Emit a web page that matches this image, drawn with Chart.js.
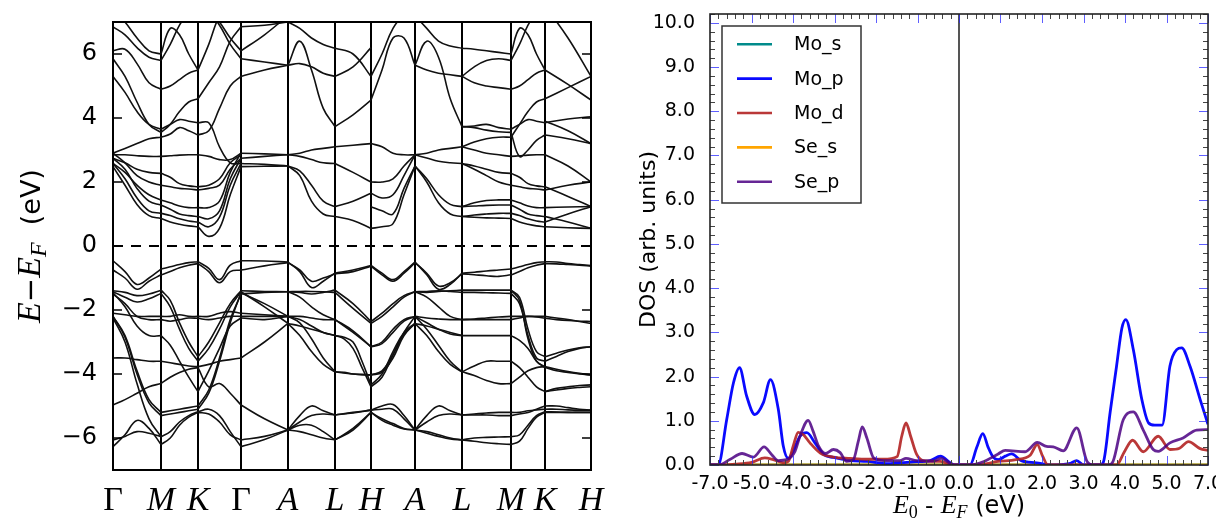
<!DOCTYPE html>
<html><head><meta charset="utf-8">
<script src="https://cdn.jsdelivr.net/npm/chart.js@4.4.0/dist/chart.umd.min.js"></script>
<style>html,body{margin:0;padding:0;background:#fff;overflow:hidden}
#c1{position:absolute;left:0;top:0}#c2{position:absolute;left:620px;top:0}</style>
</head><body>
<canvas id="c1" width="620" height="521"></canvas>
<canvas id="c2" width="596" height="521"></canvas>
<script>
// ---------- Band structure data ----------
const kHS = [0,48,85,128,175,222,258,302,349,398,432,478];
const kLabels = ['Γ','M','K','Γ','A','L','H','A','L','M','K','H'];
const eTicks = [-6,-4,-2,0,2,4,6];
const eTickLabels = ['−6','−4','−2','0','2','4','6'];

const bandsGM = [
[-0.46,-0.8,-1.2,-1.0,-0.72],[-0.75,-1.0,-1.35,-1.1,-0.9],[-1.4,-1.45,-1.55,-1.5,-1.38],
[-1.43,-1.6,-1.75,-1.65,-1.48],[-2.1,-2.15,-2.2,-2.2,-2.2],[-1.5,-1.8,-2.2,-2.3,-2.3],
[-1.46,-1.9,-2.5,-2.8,-2.8],[-2.2,-2.8,-3.9,-4.8,-5.2],[-2.2,-2.85,-4.0,-4.9,-5.3],
[-2.25,-3.0,-4.3,-5.4,-5.96],[-3.5,-3.5,-3.55,-3.6,-3.6],[-4.97,-4.8,-4.6,-4.4,-4.3],
[-6.06,-5.95,-5.8,-5.85,-5.96],[-6.27,-5.9,-5.45,-5.7,-6.2],
[2.48,1.9,1.3,0.95,0.86],[2.58,2.1,1.5,1.1,1.02],[2.74,2.4,1.8,1.4,1.28],[2.58,2.3,1.9,1.6,1.44],
[2.9,2.6,2.2,2.0,1.9],[2.74,2.6,2.4,2.3,2.27],[2.85,2.85,2.82,2.8,2.8],[2.9,3.05,3.2,3.35,3.4],
[5.3,4.8,4.2,3.8,3.65],[5.85,5.3,4.5,3.8,3.55],[6.1,6.15,5.7,5.1,4.9],[6.85,6.6,6.2,5.9,5.8],
[7.4,7.0,6.5,6.1,6.0]];
const bandsMK = [
[-0.72,-0.65,-0.58,-0.52,-0.49],[-0.9,-0.8,-0.68,-0.6,-0.55],[-1.38,-1.7,-2.4,-3.0,-3.46],
[-1.48,-1.9,-2.6,-3.2,-3.6],[-2.2,-2.2,-2.15,-2.2,-2.2],[-2.3,-2.35,-2.3,-2.25,-2.26],
[-2.8,-3.1,-3.6,-4.1,-4.55],[-3.6,-3.65,-3.7,-3.75,-3.77],[-4.3,-4.1,-3.95,-3.85,-3.8],
[-5.2,-5.15,-5.1,-5.05,-5.0],[-5.3,-5.25,-5.2,-5.15,-5.1],[-5.96,-5.8,-5.5,-5.3,-5.18],
[-6.2,-6.0,-5.6,-5.35,-5.2],
[0.86,0.75,0.68,0.63,0.6],[1.02,0.95,0.85,0.78,0.75],[1.28,1.15,1.0,0.95,0.92],[1.44,1.35,1.25,1.2,1.2],
[1.9,1.85,1.8,1.78,1.75],[2.27,2.15,1.95,1.88,1.85],[2.8,2.82,2.84,2.85,2.85],[3.4,3.5,3.7,3.6,3.47],
[3.65,3.8,3.95,3.9,3.85],[3.55,3.8,4.2,4.5,4.6],[4.9,5.0,5.2,5.4,5.5],[5.8,6.3,6.9,7.3,7.5],
[6.0,6.8,6.6,6.0,5.5]];
const bandsKG = [
[-0.49,-0.7,-1.05,-0.6,-0.46],[-0.55,-0.8,-1.15,-0.8,-0.75],[-3.46,-3.0,-2.4,-1.8,-1.4],
[-3.6,-3.2,-2.6,-1.9,-1.43],[-2.2,-2.2,-2.1,-2.05,-2.1],[-2.26,-2.3,-2.25,-2.2,-2.2],
[-4.55,-3.9,-3.2,-2.5,-2.25],[-3.77,-3.7,-3.6,-3.55,-3.5],[-3.8,-4.4,-4.3,-4.6,-4.97],
[-5.0,-4.5,-3.5,-2.3,-1.5],[-5.1,-4.6,-3.6,-2.4,-1.46],[-5.18,-5.1,-5.3,-5.8,-6.27],
[-5.2,-5.25,-5.5,-5.9,-6.06],
[0.6,0.3,0.55,1.6,2.48],[0.75,0.6,0.9,1.9,2.58],[0.92,0.85,1.1,2.1,2.74],[1.2,1.2,1.4,2.3,2.9],
[1.75,1.8,1.9,2.4,2.74],[1.85,1.9,2.1,2.6,2.85],[2.85,2.8,2.7,2.7,2.9],[3.85,3.85,3.1,2.6,2.58],
[4.6,5.1,5.6,6.4,6.85],[5.5,6.3,7.2,7.6,7.6],[7.5,7.3,6.9,6.3,5.85],[3.47,3.6,4.3,5.0,5.3],
[7.6,7.4,7.0,6.5,6.1]];
const bandsGA = [
[-0.46,-0.47,-0.5],[-0.75,-0.62,-0.52],[-1.4,-1.42,-1.43],[-1.43,-1.9,-2.42],[-2.1,-2.15,-2.2],
[-2.2,-2.2,-2.2],[-2.25,-2.3,-2.2],[-3.5,-3.0,-2.42],[-4.97,-5.4,-5.75],[-6.27,-6.05,-5.75],
[-6.06,-5.95,-5.75],[-1.5,-1.45,-1.43],[-1.46,-1.8,-2.2],
[2.48,2.49,2.5],[2.58,2.55,2.5],[2.74,2.8,2.85],[2.9,2.88,2.85],[5.85,5.75,5.65],[5.3,5.5,5.65],
[6.85,6.9,7.0],[6.1,6.6,7.2]];
const bandsAL1 = [
[-0.5,-0.8,-1.3,-1.1,-0.85],[-0.52,-0.75,-1.1,-1.0,-0.87],[-1.43,-1.45,-1.5,-1.45,-1.38],
[-1.43,-1.6,-1.9,-2.15,-2.3],[-2.2,-2.3,-2.5,-2.7,-2.8],[-2.2,-2.4,-2.9,-3.5,-3.93],
[-2.42,-2.8,-3.3,-3.7,-3.93],[-2.42,-2.5,-2.6,-2.7,-2.8],[-2.2,-2.2,-2.25,-2.3,-2.3],
[-5.75,-5.3,-5.0,-5.15,-5.28],[-5.75,-5.6,-5.6,-5.8,-6.06],[-5.75,-5.8,-5.9,-6.0,-6.06],
[-5.75,-5.5,-5.3,-5.25,-5.28],[-1.43,-1.42,-1.42,-1.43,-1.45],
[2.5,2.2,1.4,1.0,0.92],[2.5,2.35,1.9,1.4,1.23],[2.85,2.8,2.7,2.6,2.58],[2.85,2.9,3.0,3.05,3.1],
[5.65,6.4,5.5,4.3,3.73],[5.65,5.7,5.6,5.4,5.3],[7.0,6.8,6.5,6.3,6.18]];
const bandsLH = [
[-0.85,-0.75,-0.61],[-0.87,-0.8,-0.63],[-1.38,-1.8,-2.36],[-1.45,-1.95,-2.42],[-2.3,-2.7,-3.15],
[-2.3,-2.65,-3.15],[-2.8,-2.85,-3.0,-3.6,-4.34],[-2.8,-2.9,-3.2,-3.8,-4.4],
[-3.93,-3.95,-4.0,-4.02,-4.03],[-3.93,-4.0,-4.03],[-5.28,-5.2,-5.13],[-5.28,-5.22,-5.13],
[-6.06,-5.7,-5.2],[-6.06,-5.75,-5.2],
[0.92,0.8,0.55],[1.23,1.4,1.65],[2.58,2.3,2.0],[3.1,3.15,3.2],[3.73,4.1,4.56],[6.18,6.0,5.3],
[5.3,5.6,6.2]];
const bandsHA = [
[-0.61,-0.85,-1.05,-0.8,-0.5],[-0.63,-0.9,-1.1,-0.85,-0.52],[-2.36,-2.1,-1.8,-1.55,-1.43],
[-2.42,-2.2,-1.9,-1.6,-1.43],[-3.15,-3.0,-2.6,-2.3,-2.2],[-3.15,-3.05,-2.7,-2.35,-2.2],
[-4.34,-4.0,-3.3,-2.7,-2.42],[-4.4,-4.1,-3.4,-2.75,-2.42],[-4.03,-3.9,-3.4,-2.7,-2.2],
[-4.03,-3.95,-3.5,-2.8,-2.42],[-5.13,-5.0,-4.95,-5.3,-5.75],[-5.13,-5.1,-5.1,-5.4,-5.75],
[-5.2,-5.4,-5.55,-5.7,-5.75],[-5.2,-5.45,-5.6,-5.72,-5.75],
[0.55,0.6,0.7,1.6,2.5],[1.23,1.1,1.0,1.8,2.5],[1.65,1.5,1.6,2.2,2.85],[2.0,2.0,2.1,2.5,2.85],
[3.2,3.1,2.9,2.85,2.85],[4.56,5.5,6.5,6.5,5.65],[5.3,6.0,6.8,7.2,7.2]];
const bandsAL2 = [
[-0.5,-0.9,-1.35,-1.2,-0.85],[-0.52,-0.85,-1.25,-1.15,-0.87],[-1.43,-1.45,-1.42,-1.4,-1.38],
[-1.43,-1.6,-1.9,-2.2,-2.3],[-2.2,-2.6,-3.1,-3.6,-3.93],[-2.2,-2.25,-2.28,-2.3,-2.3],
[-2.42,-2.5,-2.6,-2.7,-2.8],[-2.42,-2.8,-3.3,-3.7,-3.93],[-2.2,-2.4,-2.6,-2.75,-2.8],
[-5.75,-5.3,-5.0,-5.15,-5.28],[-5.75,-5.5,-5.3,-5.25,-5.28],[-5.75,-5.8,-5.9,-6.0,-6.06],
[-5.75,-5.85,-5.95,-6.03,-6.06],[-1.43,-1.42,-1.4,-1.42,-1.45],
[2.5,2.0,1.35,1.0,0.92],[2.5,2.1,1.6,1.3,1.23],[2.85,2.75,2.65,2.6,2.58],[2.85,2.9,3.0,3.05,3.1],
[5.65,6.4,5.9,4.6,3.73],[5.65,5.5,5.4,5.35,5.3],[7.2,6.8,6.4,6.25,6.18]];
const bandsLM = [
[-0.85,-0.82,-0.78,-0.75,-0.72],[-0.87,-0.9,-0.93,-0.95,-0.9],[-1.38,-1.38,-1.38,-1.38,-1.38],
[-1.45,-1.45,-1.46,-1.47,-1.48],[-2.3,-2.28,-2.25,-2.22,-2.2],[-2.3,-2.3,-2.3,-2.3,-2.3],
[-2.8,-2.8,-2.8,-2.8,-2.8],[-3.93,-3.75,-3.6,-3.6,-3.6],[-3.93,-4.05,-4.2,-4.3,-4.3],
[-5.28,-5.28,-5.28,-5.3,-5.3],[-5.28,-5.25,-5.22,-5.2,-5.2],[-6.06,-6.0,-5.98,-5.97,-5.96],
[-6.06,-6.1,-6.15,-6.18,-6.2],
[0.92,0.9,0.88,0.87,0.86],[0.92,0.97,1.0,1.02,1.02],[1.23,1.25,1.27,1.28,1.28],[1.23,1.35,1.42,1.44,1.44],
[2.58,2.4,2.2,2.0,1.9],[2.58,2.5,2.4,2.3,2.27],[3.1,3.0,2.9,2.85,2.8],[3.1,3.25,3.35,3.4,3.4],
[3.73,3.75,3.8,3.7,3.65],[3.73,3.7,3.62,3.57,3.55],[5.3,5.1,5.0,4.95,4.9],[5.3,5.6,5.8,5.85,5.8],
[6.18,6.15,6.1,6.05,6.0]];
const bandsMK2 = [
[-0.72,-0.65,-0.58,-0.52,-0.49],[-0.9,-0.8,-0.68,-0.6,-0.55],[-1.38,-1.6,-2.6,-3.3,-3.46],
[-1.48,-1.8,-2.8,-3.5,-3.6],[-1.38,-1.7,-2.9,-3.6,-3.77],[-2.2,-2.2,-2.2,-2.22,-2.26],
[-2.3,-2.25,-2.2,-2.2,-2.2],[-2.8,-2.95,-3.2,-3.6,-3.8],[-3.6,-3.8,-4.1,-4.4,-4.55],
[-4.3,-4.1,-3.9,-3.8,-3.77],[-5.3,-5.25,-5.2,-5.1,-5.0],[-5.2,-5.2,-5.15,-5.12,-5.1],
[-5.96,-5.9,-5.6,-5.3,-5.18],[-6.2,-6.1,-5.7,-5.35,-5.2],
[0.86,0.75,0.68,0.63,0.6],[1.02,0.95,0.85,0.78,0.75],[1.28,1.15,1.0,0.95,0.92],[1.44,1.35,1.25,1.2,1.2],
[1.9,1.85,1.8,1.78,1.75],[2.27,2.15,1.95,1.88,1.85],[2.8,2.82,2.84,2.85,2.85],[3.55,2.8,3.0,3.3,3.47],
[3.65,3.8,3.95,3.9,3.85],[3.4,3.8,4.2,4.5,4.6],[4.9,5.0,5.2,5.4,5.5],[5.8,6.3,6.9,7.3,7.5],
[6.0,6.8,6.6,6.0,5.5]];
const bandsKH = [
[-0.49,-0.5,-0.55,-0.58,-0.61],[-0.55,-0.56,-0.58,-0.6,-0.63],[-3.46,-3.35,-3.25,-3.18,-3.15],
[-3.6,-3.45,-3.3,-3.2,-3.15],[-3.77,-3.85,-3.92,-3.98,-4.03],[-3.8,-3.9,-3.95,-4.0,-4.03],
[-4.55,-4.5,-4.45,-4.42,-4.4],[-4.55,-4.45,-4.4,-4.36,-4.34],[-2.2,-2.25,-2.3,-2.36,-2.42],
[-2.26,-2.3,-2.33,-2.35,-2.36],[-5.0,-5.0,-5.05,-5.1,-5.13],[-5.1,-5.1,-5.12,-5.13,-5.13],
[-5.18,-5.19,-5.2,-5.2,-5.2],[-5.2,-5.2,-5.2,-5.2,-5.2],
[0.6,0.57,0.55],[0.75,1.0,1.23],[0.92,0.75,0.55],[1.2,1.22,1.23],[1.75,1.9,2.0],[1.85,1.55,1.23],
[2.85,2.5,2.0],[3.47,3.35,3.2],[3.85,3.97,4.04],[3.9,3.6,3.2],[4.6,4.95,5.3],[5.5,5.05,4.56],
[7.5,6.5,5.3]];

// ---------- DOS data ----------
const dosXLabels = ['-7.0','-5.0','-4.0','-3.0','-2.0','-1.0','0.0','1.0','2.0','3.0','4.0','5.0','7.0'];
const dosYLabels = ['0.0','1.0','2.0','3.0','4.0','5.0','6.0','7.0','8.0','9.0','10.0'];
const moS = [[-7,0],[7,0]];
const seS = [[-7,0],[7,0]];
const moP = [[-7,0],[-6.77,0],[-6.53,1.03],[-6.34,1.86],[-6.17,2.2],[-5.97,1.56],[-5.74,1.14],[-5.5,1.41],
[-5.3,1.93],[-5.08,1.26],[-4.94,0.43],[-4.8,0.15],[-4.66,0.32],[-4.47,0.65],[-4.28,0.73],[-4.05,0.5],
[-3.81,0.24],[-3.53,0.17],[-3.06,0.1],[-2.59,0.08],[-2.03,0.03],[-1.66,0.05],[-1.28,0.07],[-0.81,0.1],
[-0.52,0.2],[-0.25,0.05],[-0.12,0],[0.31,0],[0.5,0.4],[0.67,0.71],[0.82,0.4],[0.96,0.18],[1.1,0.12],
[1.3,0.2],[1.48,0.25],[1.75,0.1],[2.18,0.05],[2.56,0],[3.1,0.03],[3.31,0.1],[3.5,0],[3.96,0],[4.06,0.07],
[4.25,1.2],[4.43,2.24],[4.58,3.1],[4.69,3.29],[4.9,2.61],[5.14,1.48],[5.33,0.95],[5.5,0.9],[5.71,0.9],
[5.93,2.24],[6.12,2.61],[6.26,2.65],[6.5,2.22],[6.78,1.48],[7.0,0.92]];
const moD = [[-7,0],[-6.77,0],[-6.3,0.02],[-5.83,0.06],[-5.46,0.16],[-5.22,0.12],[-4.94,0.05],[-4.8,0.08],
[-4.66,0.43],[-4.52,0.74],[-4.38,0.69],[-4.19,0.5],[-3.9,0.27],[-3.53,0.18],[-3.06,0.15],[-2.59,0.13],
[-2.12,0.13],[-1.74,0.19],[-1.61,0.65],[-1.49,0.95],[-1.36,0.65],[-1.19,0.24],[-1.0,0.1],[-0.53,0.08],
[-0.15,0],[0.5,0],[1.1,0.08],[1.6,0.12],[2.0,0.22],[2.2,0.46],[2.35,0.2],[2.5,0],[4.43,0],[4.65,0.3],
[4.88,0.56],[5.18,0.3],[5.6,0.65],[5.93,0.35],[6.2,0.38],[6.45,0.53],[6.78,0.37],[7.0,0.33]];
const seP = [[-7,0],[-6.77,0],[-6.43,0.13],[-6.1,0.26],[-5.78,0.18],[-5.48,0.41],[-5.27,0.24],[-5.08,0.1],
[-4.85,0.12],[-4.61,0.31],[-4.47,0.65],[-4.24,1.01],[-4.1,0.76],[-3.95,0.43],[-3.76,0.26],[-3.53,0.35],
[-3.34,0.28],[-3.16,0.08],[-2.97,0.12],[-2.83,0.54],[-2.72,0.86],[-2.59,0.61],[-2.4,0.16],[-2.12,0.1],
[-1.66,0.1],[-1.49,0.15],[-1.19,0.1],[-0.72,0.09],[-0.5,0.15],[-0.15,0],[0.3,0],[0.7,0.08],[1.1,0.25],
[1.3,0.33],[1.86,0.3],[2.2,0.51],[2.46,0.42],[2.65,0.41],[2.93,0.32],[3.31,0.84],[3.6,0.08],[3.79,0],
[4.2,0],[4.33,0.08],[4.62,1.03],[4.9,1.2],[5.18,0.79],[5.46,0.35],[5.6,0.31],[5.93,0.5],[6.3,0.61],
[6.68,0.79],[7.0,0.8]];

// ---------- helpers ----------
function drawRuns(ctx, runs, cx, by){
  let total=0; runs.forEach(r=>{ctx.font=r.f; r.w=ctx.measureText(r.t).width; total+=r.w;});
  let x=cx-total/2; ctx.textBaseline='alphabetic'; ctx.textAlign='left'; ctx.fillStyle='#000';
  runs.forEach(r=>{ctx.font=r.f; ctx.fillText(r.t,x,by+(r.dy||0)); x+=r.w;});
}

// ---------- left chart ----------
const segments=[bandsGM,bandsMK,bandsKG,bandsGA,bandsAL1,bandsLH,bandsHA,bandsAL2,bandsLM,bandsMK2,bandsKH];
const bandSets=[];
segments.forEach((seg,s)=>{const k0=kHS[s],k1=kHS[s+1];
  seg.forEach(row=>{const n=row.length;
    bandSets.push({data:row.map((e,j)=>({x:k0+(k1-k0)*j/(n-1),y:e})),borderColor:'#111',borderWidth:1.6,
      pointRadius:0,tension:0.4,fill:false});
  });
});
bandSets.push({data:[{x:kHS[0],y:0},{x:kHS[kHS.length-1],y:0}],borderColor:'#000',borderWidth:2,borderDash:[10,8],pointRadius:0,tension:0});

const leftDecor={id:'leftDecor',afterDatasetsDraw(ch){
  const {ctx,chartArea:a,scales:{y}}=ch; ctx.save();
  ctx.strokeStyle='#000'; ctx.lineWidth=2; ctx.strokeRect(a.left,a.top,a.right-a.left,a.bottom-a.top);
  ctx.lineWidth=1.5;
  eTicks.forEach(v=>{const py=y.getPixelForValue(v); ctx.beginPath();
    ctx.moveTo(a.left,py);ctx.lineTo(a.left+9,py);ctx.moveTo(a.right,py);ctx.lineTo(a.right-9,py);ctx.stroke();});
  ctx.translate(40,(a.top+a.bottom)/2); ctx.rotate(-Math.PI/2);
  drawRuns(ctx,[{t:'E',f:'italic 34px "Liberation Serif"'},{t:'−',f:'29px "DejaVu Sans"'},
    {t:'E',f:'italic 34px "Liberation Serif"'},{t:'F',f:'italic 24px "Liberation Serif"',dy:6},
    {t:'  (eV)',f:'27px "DejaVu Sans"'}],0,0);
  ctx.restore();
}};

new Chart(document.getElementById('c1'),{type:'line',data:{datasets:bandSets},
  options:{responsive:false,animation:false,devicePixelRatio:1,events:[],
    layout:{padding:{left:0,right:29,top:22,bottom:0}},
    plugins:{legend:{display:false},tooltip:{enabled:false}},
    scales:{
      x:{type:'linear',min:kHS[0],max:kHS[kHS.length-1],
        afterBuildTicks:s=>{s.ticks=kHS.map(v=>({value:v}));},
        afterFit:s=>{s.height=51;s.paddingLeft=0;s.paddingRight=0;},
        ticks:{autoSkip:false,maxRotation:0,minRotation:0,padding:11,color:'#000',
          callback:(v,i)=>kLabels[i],
          font:c=>({family:'"Liberation Serif", serif',size:34,style:kLabels[c.index]==='Γ'?'normal':'italic'})},
        grid:{color:'#000',lineWidth:2,drawTicks:false},border:{display:false}},
      y:{type:'linear',min:-7,max:7,
        afterBuildTicks:s=>{s.ticks=eTicks.map(v=>({value:v}));},
        afterFit:s=>{s.width=113;s.paddingTop=0;s.paddingBottom=0;},
        ticks:{padding:8,color:'#000',callback:(v,i)=>eTickLabels[i],font:{family:'"DejaVu Sans"',size:24}},
        grid:{display:false},border:{display:false}}
    }},
  plugins:[leftDecor]});

// ---------- right chart ----------
const dosSeries=[
  {label:'Mo_s',data:moS,color:'#008b8b',order:4},
  {label:'Mo_p',data:moP,color:'#0a0aff',order:2},
  {label:'Mo_d',data:moD,color:'rgba(178,34,34,0.9)',order:1},
  {label:'Se_s',data:seS,color:'#ffa500',order:3},
  {label:'Se_p',data:seP,color:'rgba(75,0,130,0.85)',order:0}];
const dosXTicks=dosXLabels.map((l,i)=>-7+i*14/(dosXLabels.length-1));
const dosYTicks=dosYLabels.map(l=>parseFloat(l));
const dosSets=dosSeries.map(s=>({label:s.label,data:s.data.map(p=>({x:p[0],y:p[1]})),borderColor:s.color,
  borderWidth:2.8,pointRadius:0,cubicInterpolationMode:'monotone',order:s.order,fill:false}));
dosSets.push({label:'zero',data:[{x:0,y:0},{x:0,y:10.2}],borderColor:'#555',borderWidth:2,pointRadius:0,tension:0,order:9});

const rightDecor={id:'rightDecor',afterDatasetsDraw(ch){
  const {ctx,chartArea:a,scales:{x,y}}=ch; ctx.save();
  ctx.lineWidth=1;
  const minorX=7/30, minorY=0.2;
  for(let j=0;j<=60;j++){const v=-7+j*minorX; const px=Math.round(x.getPixelForValue(v))+0.5;
    const major=(j%5===0); const L=major?9:5; ctx.strokeStyle=major?'rgba(40,40,255,0.75)':'#444';
    ctx.beginPath(); ctx.moveTo(px,a.bottom); ctx.lineTo(px,a.bottom-L); ctx.moveTo(px,a.top); ctx.lineTo(px,a.top+L); ctx.stroke();}
  for(let j=0;j<=51;j++){const v=j*minorY; const py=Math.round(y.getPixelForValue(v))+0.5;
    const major=(j%5===0); const L=major?9:5; ctx.strokeStyle=major?'rgba(40,40,255,0.75)':'#444';
    ctx.beginPath(); ctx.moveTo(a.left,py); ctx.lineTo(a.left+L,py); ctx.moveTo(a.right,py); ctx.lineTo(a.right-L,py); ctx.stroke();}
  ctx.strokeStyle='#222'; ctx.lineWidth=1.6; ctx.strokeRect(a.left,a.top,a.right-a.left,a.bottom-a.top);
  // legend
  const lx=102, ly=26, lw=139, lh=177;
  ctx.fillStyle='#fff'; ctx.fillRect(lx,ly,lw,lh); ctx.strokeStyle='#333'; ctx.lineWidth=1.5; ctx.strokeRect(lx,ly,lw,lh);
  dosSeries.forEach((s,i)=>{const yy=44.3+i*34.35; ctx.strokeStyle=s.color; ctx.lineWidth=2.6;
    ctx.beginPath(); ctx.moveTo(117,yy); ctx.lineTo(152,yy); ctx.stroke();
    ctx.fillStyle='#000'; ctx.font='19px "DejaVu Sans"'; ctx.textBaseline='middle'; ctx.textAlign='left'; ctx.fillText(s.label,174,yy+1);});
  // x title
  drawRuns(ctx,[{t:'E',f:'italic 26px "Liberation Serif"'},{t:'0',f:'18px "Liberation Serif"',dy:5},
    {t:' - ',f:'23px "DejaVu Sans"'},{t:'E',f:'italic 26px "Liberation Serif"'},{t:'F',f:'italic 18px "Liberation Serif"',dy:5},
    {t:' (eV)',f:'24px "DejaVu Sans"'}],(a.left+a.right)/2,513);
  // y title
  ctx.translate(35,(a.top+a.bottom)/2); ctx.rotate(-Math.PI/2);
  drawRuns(ctx,[{t:'DOS (arb. units)',f:'22px "DejaVu Sans"'}],0,0);
  ctx.restore();
}};

new Chart(document.getElementById('c2'),{type:'line',data:{datasets:dosSets},
  options:{responsive:false,animation:false,devicePixelRatio:1,events:[],
    layout:{padding:{left:0,right:8,top:14,bottom:0}},
    plugins:{legend:{display:false},tooltip:{enabled:false}},
    scales:{
      x:{type:'linear',min:-7,max:7,
        afterBuildTicks:s=>{s.ticks=dosXTicks.map(v=>({value:v}));},
        afterFit:s=>{s.height=56;s.paddingLeft=0;s.paddingRight=0;},
        ticks:{autoSkip:false,maxRotation:0,minRotation:0,padding:0,color:'#000',
          callback:(v,i)=>dosXLabels[i],font:{family:'"DejaVu Sans"',size:19}},
        grid:{display:false},border:{display:false}},
      y:{type:'linear',min:0,max:10.2,
        afterBuildTicks:s=>{s.ticks=dosYTicks.map(v=>({value:v}));},
        afterFit:s=>{s.width=90;s.paddingTop=0;s.paddingBottom=0;},
        ticks:{padding:7,color:'#000',callback:(v,i)=>dosYLabels[i],font:{family:'"DejaVu Sans"',size:19}},
        grid:{display:false},border:{display:false}}
    }},
  plugins:[rightDecor]});
</script></body></html>
